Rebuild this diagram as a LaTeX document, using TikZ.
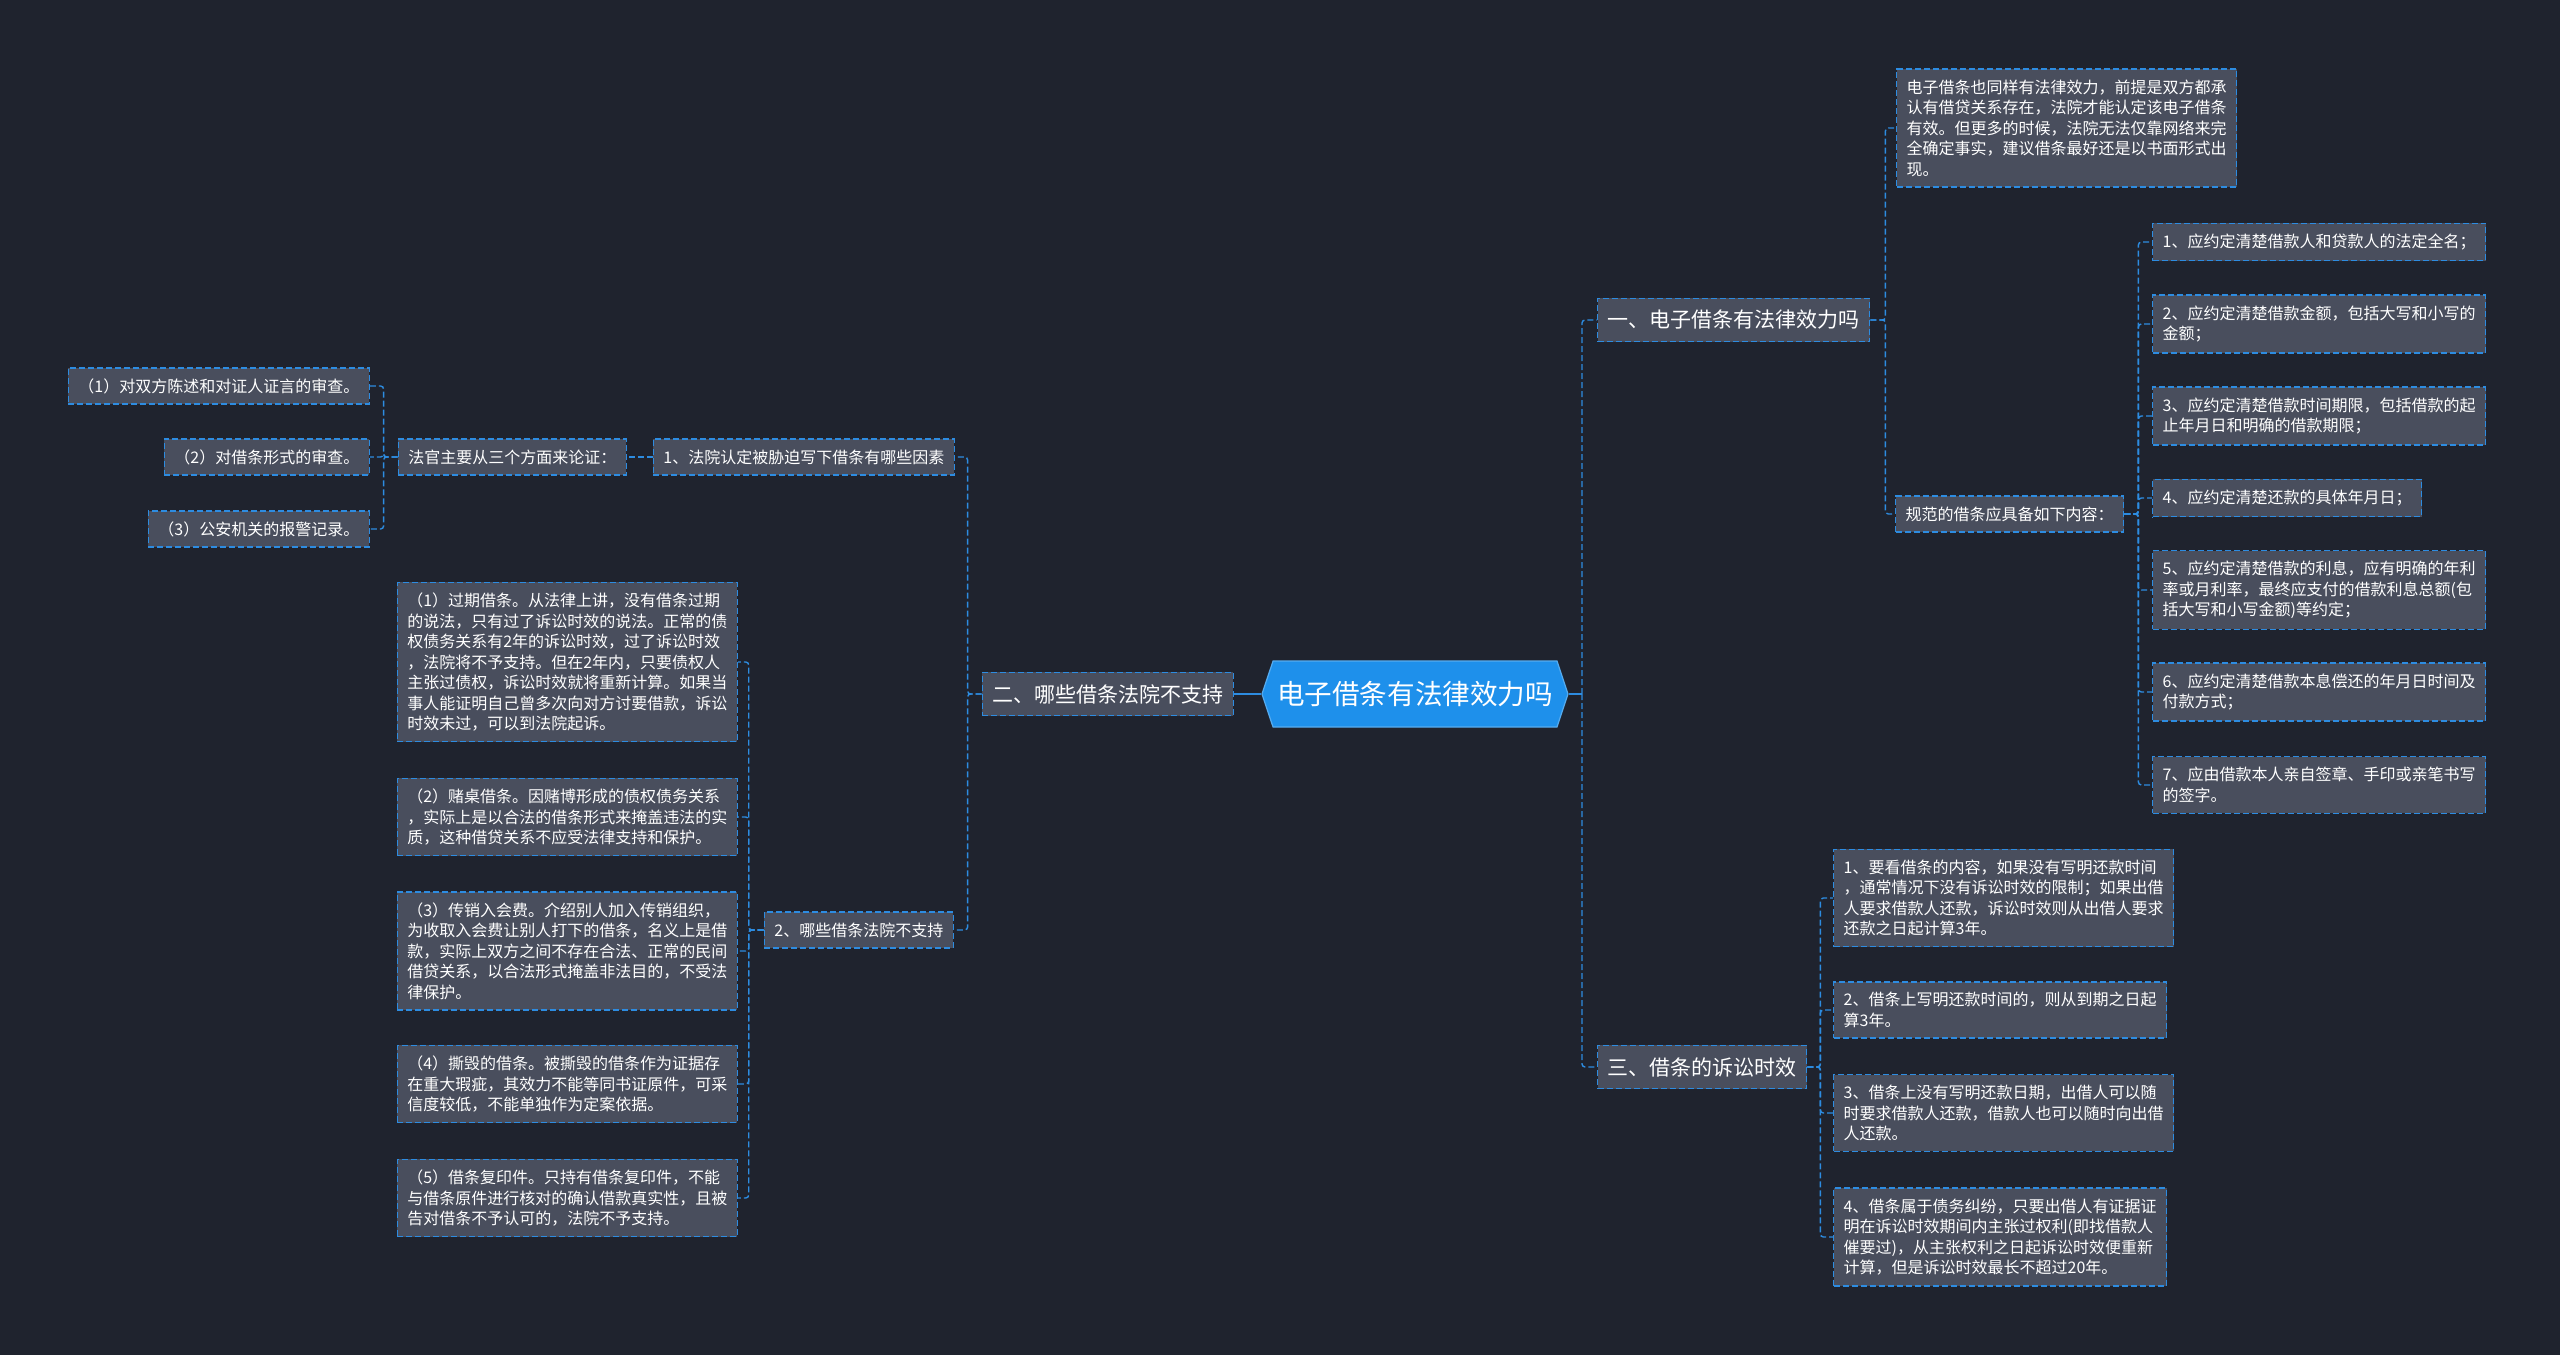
\documentclass[tikz,border=0pt]{standalone}
\usepackage{fontspec}
\setmainfont{Noto Sans CJK SC}
\usepackage{xcolor}
\usepackage{tikz}
\usetikzlibrary{positioning,calc,shapes.symbols}
\definecolor{bgdark}{RGB}{31,35,46}
\definecolor{boxgray}{RGB}{73,78,93}
\definecolor{linkblue}{RGB}{45,140,225}
\definecolor{rootblue}{RGB}{30,144,235}
\newcommand{\leaffont}{\fontsize{8pt}{10.25pt}\selectfont}
\newcommand{\branchfont}{\fontsize{10.5pt}{12pt}\selectfont}
\newcommand{\rootfont}{\fontsize{13.8pt}{16pt}\selectfont}
\tikzset{
  mapbox/.style={
    draw=linkblue,line width=0.7pt,dash pattern=on 3pt off 1.5pt,
    fill=boxgray,text=white,align=left,inner xsep=5pt,inner ysep=5.25pt,
    font=\leaffont
  },
  leafbox/.style={mapbox},
  branchbox/.style={mapbox,font=\branchfont,inner ysep=6pt},
  rootbox/.style={
    shape=signal,signal to=west and east,signal pointer angle=143,
    draw=rootblue!75!white,line width=0.6pt,fill=rootblue,text=white,
    font=\rootfont,minimum width=153pt,minimum height=33pt,inner sep=0pt
  },
  maplink/.style={draw=linkblue,line width=0.7pt,dash pattern=on 3pt off 1.5pt,rounded corners=1.5pt},
  rootlink/.style={draw=linkblue,line width=0.9pt}
}
\begin{document}
\begin{tikzpicture}[x=0.5pt,y=-0.5pt]
  \fill[bgdark] (0,0) rectangle (2560,1355);
  \useasboundingbox (0,0) rectangle (2560,1355);
  % centre and main branches
  \node[rootbox] (root) at (1415,694) {电子借条有法律效力吗};
  \node[branchbox,anchor=west] (b1) at (1597,320) {一、电子借条有法律效力吗};
  \node[branchbox,anchor=east] (b2) at (1234,694) {二、哪些借条法院不支持};
  \node[branchbox,anchor=west] (b3) at (1597,1067) {三、借条的诉讼时效};
  \coordinate (rspine) at (1582,694);
  \draw[rootlink] (root.east) -- (rspine);
  \draw[rootlink] (root.west) -- (b2.east);
  \draw[maplink] (rspine) |- (b1.west);
  \draw[maplink] (rspine) |- (b3.west);
  % branch one
  \node[leafbox,anchor=west] (t1) at (1896,128) {电子借条也同样有法律效力，前提是双方都承\\认有借贷关系存在，法院才能认定该电子借条\\有效。但更多的时候，法院无法仅靠网络来完\\全确定事实，建议借条最好还是以书面形式出\\现。};
  \node[leafbox,anchor=west] (t2) at (1895,514) {规范的借条应具备如下内容：};
  \draw[maplink] (b1.east) -- ++(15,0) |- (t1.west);
  \draw[maplink] (b1.east) -- ++(15,0) |- (t2.west);
  \node[leafbox,anchor=west] (r1) at (2152,242) {1、应约定清楚借款人和贷款人的法定全名；};
  \node[leafbox,anchor=west] (r2) at (2152,324) {2、应约定清楚借款金额，包括大写和小写的\\金额；};
  \node[leafbox,anchor=west] (r3) at (2152,416) {3、应约定清楚借款时间期限，包括借款的起\\止年月日和明确的借款期限；};
  \node[leafbox,anchor=west] (r4) at (2152,498) {4、应约定清楚还款的具体年月日；};
  \node[leafbox,anchor=west] (r5) at (2152,590) {5、应约定清楚借款的利息，应有明确的年利\\率或月利率，最终应支付的借款利息总额(包\\括大写和小写金额)等约定；};
  \node[leafbox,anchor=west] (r6) at (2152,692) {6、应约定清楚借款本息偿还的年月日时间及\\付款方式；};
  \node[leafbox,anchor=west] (r7) at (2152,785) {7、应由借款本人亲自签章、手印或亲笔书写\\的签字。};
  \foreach \k in {r1,r2,r3,r4,r5,r6,r7}
    \draw[maplink] (t2.east) -- ++(14,0) |- (\k.west);
  % branch three
  \node[leafbox,anchor=west] (s1) at (1833,898) {1、要看借条的内容，如果没有写明还款时间\\，通常情况下没有诉讼时效的限制；如果出借\\人要求借款人还款，诉讼时效则从出借人要求\\还款之日起计算3年。};
  \node[leafbox,anchor=west] (s2) at (1833,1010) {2、借条上写明还款时间的，则从到期之日起\\算3年。};
  \node[leafbox,anchor=west] (s3) at (1833,1113) {3、借条上没有写明还款日期，出借人可以随\\时要求借款人还款，借款人也可以随时向出借\\人还款。};
  \node[leafbox,anchor=west] (s4) at (1833,1237) {4、借条属于债务纠纷，只要出借人有证据证\\明在诉讼时效期间内主张过权利(即找借款人\\催要过)，从主张权利之日起诉讼时效便重新\\计算，但是诉讼时效最长不超过20年。};
  \foreach \k in {s1,s2,s3,s4}
    \draw[maplink] (b3.east) -- ++(13,0) |- (\k.west);
  % branch two
  \node[leafbox,anchor=east] (l1) at (955,457) {1、法院认定被胁迫写下借条有哪些因素};
  \node[leafbox,anchor=east] (l2) at (954,930) {2、哪些借条法院不支持};
  \draw[maplink] (b2.west) -- ++(-14,0) |- (l1.east);
  \draw[maplink] (b2.west) -- ++(-14,0) |- (l2.east);
  \node[leafbox,anchor=east] (l1a) at (627,457) {法官主要从三个方面来论证：};
  \draw[maplink] (l1.west) -- (l1a.east);
  \node[leafbox,anchor=east] (p1) at (370,386) {（1）对双方陈述和对证人证言的审查。};
  \node[leafbox,anchor=east] (p2) at (370,457) {（2）对借条形式的审查。};
  \node[leafbox,anchor=east] (p3) at (370,529) {（3）公安机关的报警记录。};
  \foreach \k in {p1,p2,p3}
    \draw[maplink] (l1a.west) -- ++(-14,0) |- (\k.east);
  \node[leafbox,anchor=east] (q1) at (738,662) {（1）过期借条。从法律上讲，没有借条过期\\的说法，只有过了诉讼时效的说法。正常的债\\权债务关系有2年的诉讼时效，过了诉讼时效\\，法院将不予支持。但在2年内，只要债权人\\主张过债权，诉讼时效就将重新计算。如果当\\事人能证明自己曾多次向对方讨要借款，诉讼\\时效未过，可以到法院起诉。};
  \node[leafbox,anchor=east] (q2) at (738,817) {（2）赌桌借条。因赌博形成的债权债务关系\\，实际上是以合法的借条形式来掩盖违法的实\\质，这种借贷关系不应受法律支持和保护。};
  \node[leafbox,anchor=east] (q3) at (738,951) {（3）传销入会费。介绍别人加入传销组织，\\为收取入会费让别人打下的借条，名义上是借\\款，实际上双方之间不存在合法、正常的民间\\借贷关系，以合法形式掩盖非法目的，不受法\\律保护。};
  \node[leafbox,anchor=east] (q4) at (738,1084) {（4）撕毁的借条。被撕毁的借条作为证据存\\在重大瑕疵，其效力不能等同书证原件，可采\\信度较低，不能单独作为定案依据。};
  \node[leafbox,anchor=east] (q5) at (738,1198) {（5）借条复印件。只持有借条复印件，不能\\与借条原件进行核对的确认借款真实性，且被\\告对借条不予认可的，法院不予支持。};
  \foreach \k in {q1,q2,q3,q4,q5}
    \draw[maplink] (l2.west) -- ++(-15,0) |- (\k.east);
\end{tikzpicture}
\end{document}
